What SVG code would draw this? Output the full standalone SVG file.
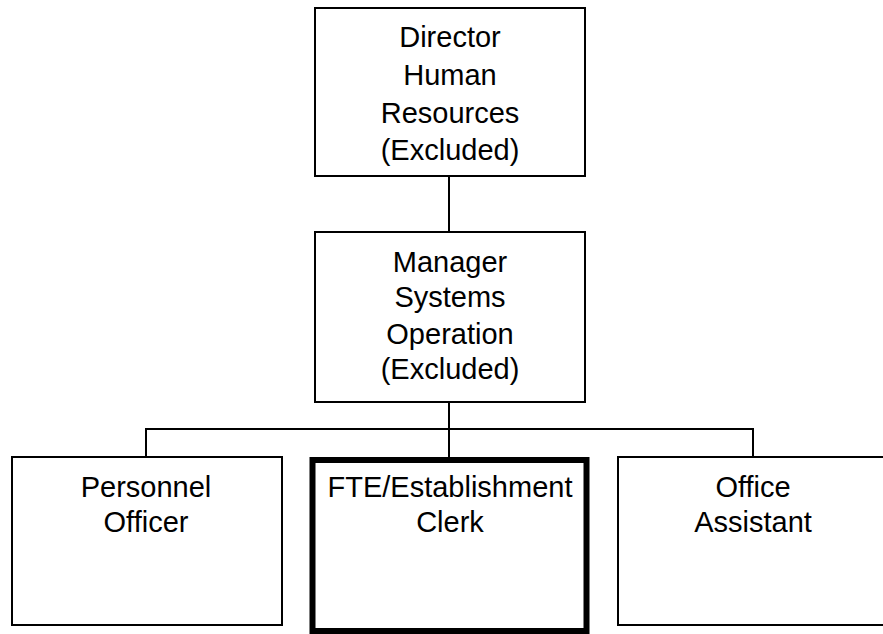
<svg xmlns="http://www.w3.org/2000/svg" width="883" height="634" viewBox="0 0 883 634">
<style>
.box{fill:#fff;stroke:#000;stroke-width:2}
.thick{fill:#fff;stroke:#000;stroke-width:6}
.lbl{font-family:"Liberation Sans",Arial,sans-serif;font-size:29px;fill:#000;text-anchor:middle}
.conn{fill:none;stroke:#000;stroke-width:2}
</style>
<rect width="883" height="634" fill="#fff"/>
<g id="connectors">
<line class="conn" x1="449" y1="176" x2="449" y2="232"/>
<line class="conn" x1="449" y1="402" x2="449" y2="460"/>
<polyline class="conn" points="146,457 146,429 753,429 753,457"/>
</g>
<g id="director">
<rect class="box" x="315" y="8" width="270" height="168"/>
<text class="lbl" x="450" y="47">Director</text>
<text class="lbl" x="450" y="85">Human</text>
<text class="lbl" x="450" y="123">Resources</text>
<text class="lbl" x="450" y="160">(Excluded)</text>
</g>
<g id="manager">
<rect class="box" x="315" y="232" width="270" height="170"/>
<text class="lbl" x="450" y="272">Manager</text>
<text class="lbl" x="450" y="307">Systems</text>
<text class="lbl" x="450" y="344">Operation</text>
<text class="lbl" x="450" y="379">(Excluded)</text>
</g>
<g id="personnel">
<rect class="box" x="12" y="457" width="270" height="168"/>
<text class="lbl" x="146" y="497">Personnel</text>
<text class="lbl" x="146" y="532">Officer</text>
</g>
<g id="fte">
<rect class="thick" x="312.5" y="460" width="274" height="171"/>
<text class="lbl" x="450" y="497">FTE/Establishment</text>
<text class="lbl" x="450" y="532">Clerk</text>
</g>
<g id="office">
<rect class="box" x="618" y="457" width="280" height="168"/>
<text class="lbl" x="753" y="497">Office</text>
<text class="lbl" x="753" y="532">Assistant</text>
</g>
</svg>
